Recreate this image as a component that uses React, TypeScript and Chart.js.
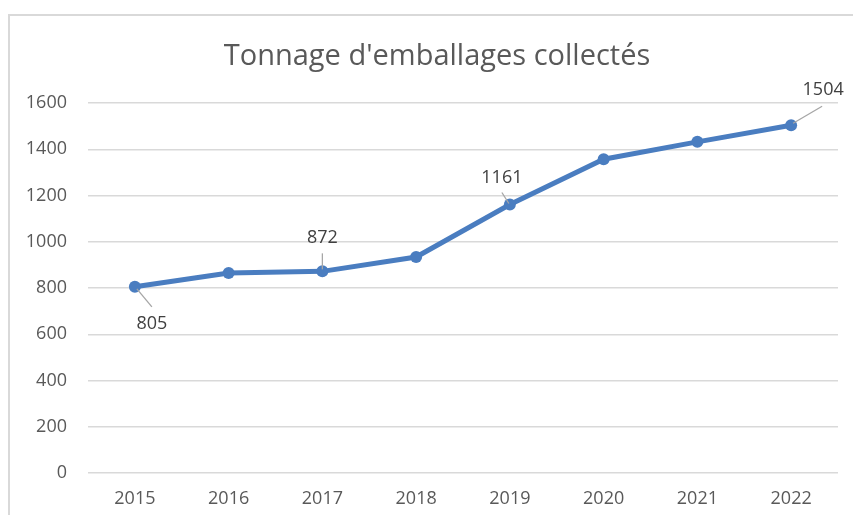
import React, { useEffect, useRef } from "react";
import { Chart, registerables } from "chart.js";

Chart.register(...registerables);

const TITLE = "Tonnage d'emballages collectés";
const YEARS = ["2015", "2016", "2017", "2018", "2019", "2020", "2021", "2022"];
const TONNAGE = [805, 865, 872, 934, 1161, 1357, 1432, 1504];
const LABELED = [0, 2, 4, 7];
const Y_MIN = 0;
const Y_MAX = 1600;
const Y_STEP = 200;

const FONT = "'Open Sans', 'Noto Sans', sans-serif";
const LINE_COLOR = "#4a7dc0";

// label offsets relative to the point: [textDx, textDy, lineStartDx, lineStartDy, lineEndDx, lineEndDy]
const LABEL_OFFSETS: Record<number, number[]> = {
  0: [17, 37, 2, 2, 17, 20],
  2: [0, -33, 0, -2, 0, -18],
  4: [-8, -27, -1, -1, -8, -12],
  7: [32, -35, 2, -2, 31, -19],
};

const framePlugin = {
  id: "frame",
  beforeDraw(chart: any) {
    const ctx = chart.ctx;
    ctx.save();
    ctx.fillStyle = "#ffffff";
    ctx.fillRect(0, 0, chart.width, chart.height);
    ctx.fillStyle = "#d9d9d9";
    ctx.fillRect(8, 14, 2, chart.height - 14);
    ctx.fillRect(8, 14, chart.width - 8, 2);
    ctx.fillStyle = "#595959";
    ctx.font = `29px ${FONT}`;
    ctx.textAlign = "center";
    ctx.textBaseline = "alphabetic";
    ctx.fillText(TITLE, 437, 65);
    ctx.restore();
  },
};

const labelPlugin = {
  id: "pointLabels",
  afterDatasetsDraw(chart: any) {
    const ctx = chart.ctx;
    const meta = chart.getDatasetMeta(0);
    ctx.save();
    ctx.font = `18px ${FONT}`;
    ctx.textAlign = "center";
    ctx.textBaseline = "middle";
    LABELED.forEach((i) => {
      const pt = meta.data[i];
      const o = LABEL_OFFSETS[i];
      ctx.strokeStyle = "#a6a6a6";
      ctx.lineWidth = 1.3;
      ctx.beginPath();
      ctx.moveTo(pt.x + o[2], pt.y + o[3]);
      ctx.lineTo(pt.x + o[4], pt.y + o[5]);
      ctx.stroke();
      ctx.fillStyle = "#404040";
      ctx.fillText(String(TONNAGE[i]), pt.x + o[0], pt.y + o[1]);
    });
    ctx.restore();
  },
};

export default function App() {
  const ref = useRef<HTMLCanvasElement>(null);
  useEffect(() => {
    if (!ref.current) return;
    const chart = new Chart(ref.current, {
      type: "line",
      data: {
        labels: YEARS,
        datasets: [
          {
            data: TONNAGE,
            borderColor: LINE_COLOR,
            backgroundColor: LINE_COLOR,
            borderWidth: 5,
            pointRadius: 6,
            pointBorderWidth: 0,
            pointBackgroundColor: LINE_COLOR,
            tension: 0,
          },
        ],
      },
      options: {
        responsive: false,
        animation: false,
        layout: { padding: { left: 0, right: 15, top: 103, bottom: 0 } },
        plugins: {
          legend: { display: false },
          title: { display: false },
          tooltip: { enabled: false },
        },
        scales: {
          x: {
            type: "category",
            offset: true,
            grid: { display: false, drawTicks: false },
            border: { display: false },
            ticks: {
              color: "#595959",
              font: { family: FONT, size: 18 },
              padding: 15,
              maxRotation: 0,
            },
            afterFit: (s: any) => {
              s.height = 42;
            },
          },
          y: {
            min: Y_MIN,
            max: Y_MAX,
            ticks: {
              stepSize: Y_STEP,
              color: "#595959",
              font: { family: FONT, size: 18 },
              padding: 21,
              callback: (v: any) => String(v),
            },
            grid: { color: "#d9d9d9", lineWidth: 1.5, drawTicks: false },
            border: { display: false },
            afterFit: (s: any) => {
              s.width = 88;
            },
          },
        },
      },
      plugins: [framePlugin, labelPlugin],
    });
    return () => chart.destroy();
  }, []);
  return (
    <div style={{ position: "fixed", left: 0, top: 0, width: 853, height: 515, overflow: "hidden" }}>
      <canvas ref={ref} width={853} height={515} style={{ display: "block" }} />
    </div>
  );
}
